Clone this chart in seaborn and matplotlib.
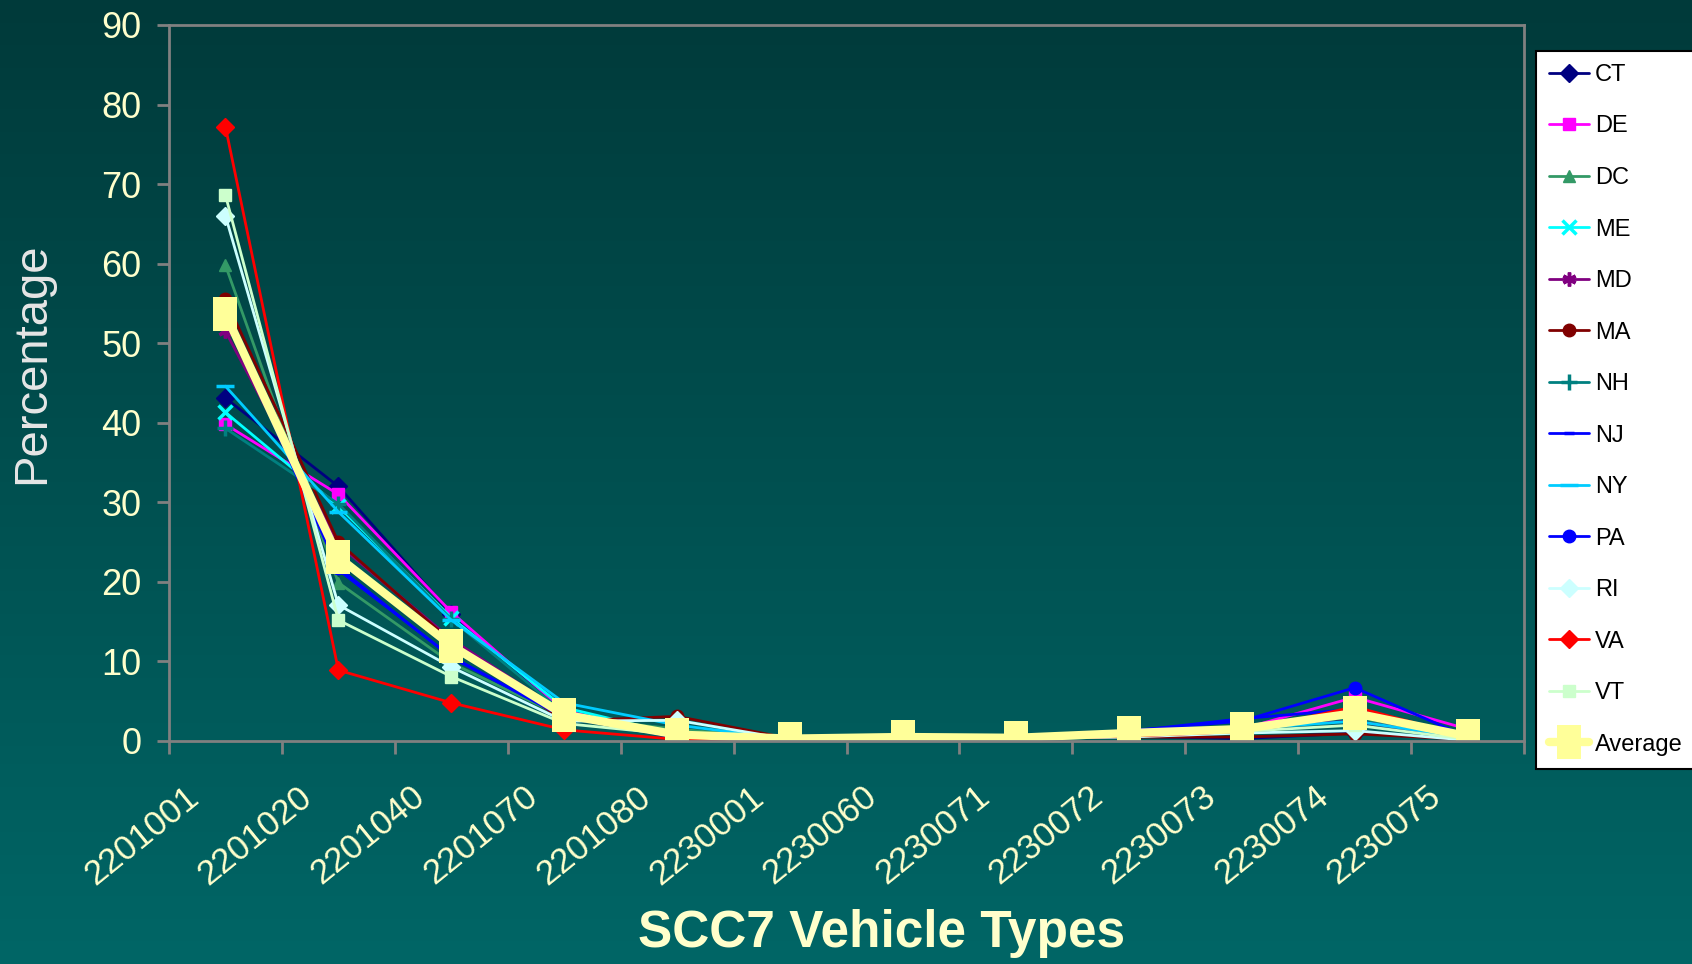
import matplotlib
matplotlib.use("Agg")

import matplotlib.pyplot as plt
import matplotlib.transforms as mtransforms
import numpy as np
import pandas as pd
import seaborn as sns
from matplotlib.colors import LinearSegmentedColormap

# ── Data ─────────────────────────────────────────────────────────────────────
CATEGORIES = ["2201001", "2201020", "2201040", "2201070", "2201080", "2230001",
              "2230060", "2230071", "2230072", "2230073", "2230074", "2230075"]
STATES = ["CT", "DE", "DC", "ME", "MD", "MA", "NH", "NJ", "NY", "PA", "RI", "VA", "VT"]

CT = [43.1, 32.0, 16.0, 3.5, 0.3, 0.1, 0.4, 0.3, 0.6, 0.3, 1.0, 0.2]
DE = [39.8, 31.0, 16.2, 3.8, 0.5, 0.1, 0.5, 0.4, 0.9, 1.5, 5.5, 1.5]
DC = [59.8, 19.9, 9.8, 3.0, 1.5, 0.2, 0.6, 0.4, 1.2, 1.8, 3.0, 0.3]
ME = [41.3, 29.5, 15.5, 4.2, 0.8, 0.1, 0.5, 0.4, 1.0, 1.5, 3.2, 0.5]
MD = [51.5, 24.7, 12.8, 3.5, 0.6, 0.2, 0.5, 0.5, 1.0, 1.8, 2.5, 0.4]
MA = [55.5, 25.0, 12.5, 2.5, 3.1, 0.3, 0.4, 0.4, 0.5, 0.5, 0.9, 0.2]
NH = [39.3, 29.8, 15.3, 3.5, 0.7, 0.2, 0.6, 0.5, 1.1, 1.6, 3.0, 0.5]
NJ = [53.5, 21.5, 10.6, 3.0, 0.5, 0.2, 0.4, 0.4, 1.2, 2.8, 4.0, 0.5]
NY = [44.6, 28.8, 15.2, 4.8, 2.0, 0.2, 0.5, 0.4, 1.0, 1.5, 2.5, 0.4]
PA = [54.5, 21.8, 10.5, 3.0, 0.6, 0.2, 0.5, 0.4, 1.3, 2.5, 6.7, 0.5]
RI = [66.0, 17.1, 9.3, 2.5, 2.6, 0.2, 0.3, 0.3, 0.5, 1.0, 1.3, 0.1]
VA = [77.2, 8.9, 4.8, 1.4, 0.2, 0.1, 0.3, 0.3, 0.6, 1.2, 4.3, 0.5]
VT = [68.6, 15.2, 8.1, 2.2, 0.8, 0.1, 0.4, 0.3, 0.7, 1.2, 2.0, 0.2]
AVERAGE = [53.7, 23.1, 12.0, 3.3, 0.8, 0.3, 0.5, 0.4, 1.0, 1.5, 3.5, 0.6]

SERIES = [CT, DE, DC, ME, MD, MA, NH, NJ, NY, PA, RI, VA, VT]
Y_TICKS = list(range(0, 100, 10))

# ── Style ─────────────────────────────────────────────────────────────────────
STATE_COLOURS = {
    "CT": "#000080", "DE": "#FF00FF", "DC": "#339966", "ME": "#00FFFF",
    "MD": "#800080", "MA": "#800000", "NH": "#008080", "NJ": "#0000FF",
    "NY": "#00CCFF", "PA": "#0000FF", "RI": "#CCFFFF", "VA": "#FF0000",
    "VT": "#CCFFCC",
}
STATE_MARKERS = {
    "CT": "D", "DE": "s", "DC": "^", "ME": "x", "MD": (6, 2, 0), "MA": "o",
    "NH": "+", "NJ": "_", "NY": "_", "PA": "o", "RI": "D", "VA": "D", "VT": "s",
}
MARKER_SIZES = {"NJ": 7, "NY": 13, "ME": 10, "MD": 10, "NH": 11}
AVG_COLOUR = "#FFFF99"
TEXT_YELLOW = "#FFFFCC"
AXIS_GREY = "#808080"
FONTS = ["Liberation Sans Narrow", "Liberation Sans", "DejaVu Sans"]

sns.set_theme(style="white")
plt.rcParams["font.family"] = ["Liberation Sans", "DejaVu Sans"]

W, H = 1692, 964
fig = plt.figure(figsize=(W / 100, H / 100), dpi=100)

# gradient background
bg = fig.add_axes([0, 0, 1, 1], zorder=-10)
grad = np.linspace(0, 1, 256).reshape(-1, 1)
bg.imshow(grad, aspect="auto", extent=[0, 1, 0, 1], origin="upper",
          cmap=LinearSegmentedColormap.from_list("bg", ["#003a3a", "#006666"]))
bg.set_axis_off()

ax = fig.add_axes([169 / W, 1 - 741 / H, (1524 - 169) / W, (741 - 25) / H])
ax.set_facecolor("none")

df = pd.DataFrame(
    [(st, cat, v) for st, vals in zip(STATES, SERIES) for cat, v in zip(CATEGORIES, vals)],
    columns=["state", "scc7", "pct"],
)
avg_df = pd.DataFrame({"scc7": CATEGORIES, "pct": AVERAGE})

for st in STATES:
    c = STATE_COLOURS[st]
    m = STATE_MARKERS[st]
    filled = m in ("D", "s", "^", "o")
    sns.lineplot(
        data=df[df["state"] == st], x="scc7", y="pct", sort=False, ax=ax,
        color=c, linewidth=2.0, marker=m, markersize=MARKER_SIZES.get(st, 9),
        markeredgecolor=c, markeredgewidth=1.0 if filled else 2.5,
        label=st, legend=False,
    )

# rectangular marker for the average series
rect = [(-0.72, -1), (0.72, -1), (0.72, 1), (-0.72, 1), (-0.72, -1)]
sns.lineplot(
    data=avg_df, x="scc7", y="pct", sort=False, ax=ax, color=AVG_COLOUR,
    linewidth=6, marker=rect, markersize=24, markeredgecolor=AVG_COLOUR,
    markeredgewidth=0, label="Average", legend=False,
)

# ── Axes ──────────────────────────────────────────────────────────────────────
ax.set_xlim(-0.5, len(CATEGORIES) - 0.5)
ax.set_ylim(0, 90)
ax.set_yticks(Y_TICKS)
for sp in ax.spines.values():
    sp.set_visible(True)
    sp.set_color(AXIS_GREY)
    sp.set_linewidth(2)

ax.tick_params(axis="y", which="major", direction="out", length=9, width=2,
               color=AXIS_GREY, labelcolor=TEXT_YELLOW, labelsize=26, pad=11, left=True)
ax.set_xticks(range(len(CATEGORIES)))
ax.set_xticks(np.arange(-0.5, len(CATEGORIES), 1.0), minor=True)
ax.tick_params(axis="x", which="major", length=0, pad=0)
ax.tick_params(axis="x", which="minor", direction="out", length=9, width=2,
               color=AXIS_GREY, bottom=True)
ax.set_xticklabels(CATEGORIES, rotation=39, ha="right", va="top",
                   rotation_mode="anchor", fontsize=25, color=TEXT_YELLOW)
offset = mtransforms.ScaledTranslation(-0.41, -0.39, fig.dpi_scale_trans)
for lbl in ax.get_xticklabels():
    lbl.set_transform(lbl.get_transform() + offset)

ax.set_ylabel("Percentage", fontsize=34, color="#E6E6E6", family=FONTS)
ax.yaxis.set_label_coords(-0.085, 0.527)
ax.set_xlabel("SCC7 Vehicle Types", fontsize=37, fontweight="bold",
              color=TEXT_YELLOW, family=FONTS)
ax.xaxis.set_label_coords(0.526, -0.234)

# ── Legend ────────────────────────────────────────────────────────────────────
handles, labels = ax.get_legend_handles_labels()
leg = ax.legend(
    handles, labels, loc="upper left", bbox_to_anchor=(1536 / W, 1 - 51 / H),
    bbox_transform=fig.transFigure, frameon=True, fancybox=False,
    facecolor="white", edgecolor="black", framealpha=1, labelcolor="black",
    prop={"family": FONTS, "size": 17}, labelspacing=1.25, handlelength=1.7,
    handletextpad=0.25, borderpad=0.55, borderaxespad=0, markerscale=1.0,
)
leg.get_frame().set_linewidth(1.5)

fig.savefig("out.png", dpi=100)
